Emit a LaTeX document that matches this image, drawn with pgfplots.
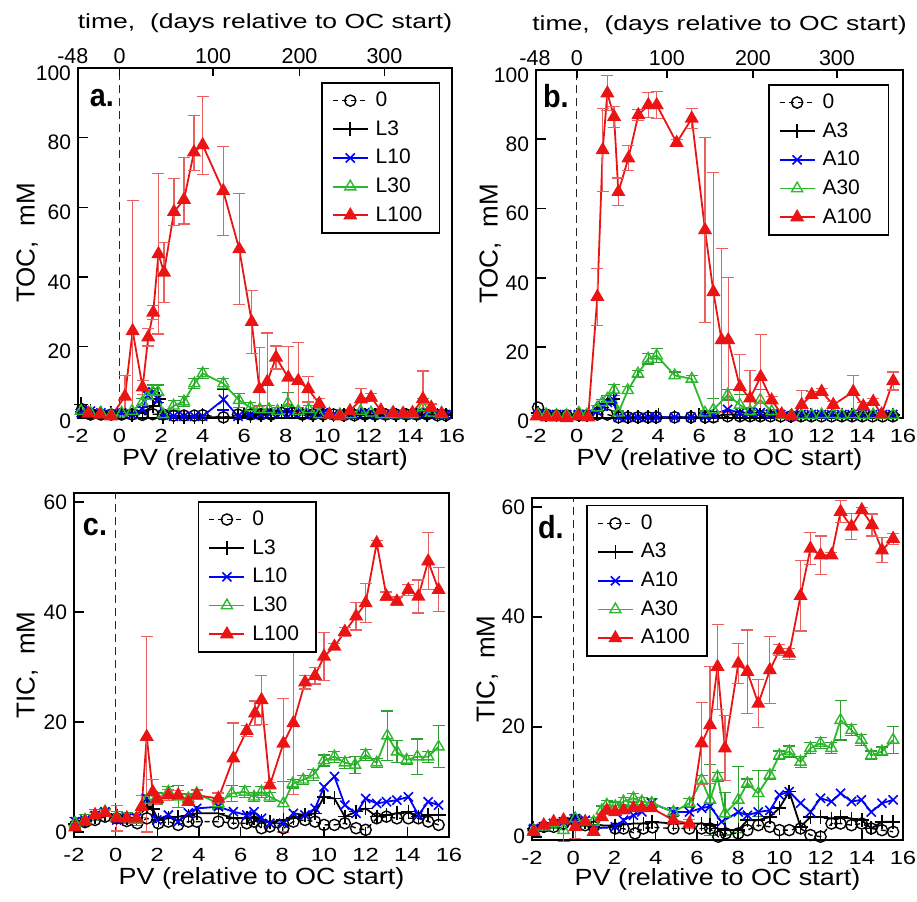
\documentclass[border=0pt]{standalone}
\usepackage{fontspec}
\setmainfont{Liberation Sans}
\usepackage{graphicx}
\usepackage{pgfplots}
\pgfplotsset{compat=1.18}

\definecolor{cred}{RGB}{235,20,20}
\definecolor{cerr}{RGB}{236,95,95}
\definecolor{cgreen}{RGB}{45,185,45}
\definecolor{cgerr}{RGB}{45,160,45}
\definecolor{cblue}{RGB}{0,0,255}

\tikzset{
  toptick/.style={font=\fontsize{10.75}{12}\selectfont, anchor=south, inner sep=0pt, yshift=2pt},
  toptitle/.style={font=\fontsize{10.2}{12}\selectfont, anchor=center, yshift=22.5pt},
}

\pgfplotsset{
  panel/.style={
    scale only axis, anchor=south west, clip=false,
    xmin=-2, xmax=16, xtick={-2,0,...,16},
    xtick pos=lower, ytick pos=lower, tick align=inside,
    axis line style={line width=1pt},
    major tick length=5pt,
    tick style={line width=0.8pt, black},
    /pgf/number format/assume math mode=true,
    yticklabel style={font=\fontsize{10.5}{12}\selectfont},
    xticklabel={\scalebox{1.25}[1]{\pgfmathprintnumber{\tick}}},
    xticklabel style={font=\fontsize{9.5}{11}\selectfont, yshift=-2pt},
    xlabel={\scalebox{1.15}[1]{PV (relative to OC start)}},
    xlabel style={font=\fontsize{11.7}{14}\selectfont, at={(axis description cs:0.5,-0.118)}, anchor=center},
    ylabel style={font=\fontsize{13}{15}\selectfont, anchor=center},
    legend cell align=left,
    legend image code/.code={\draw[mark repeat=2,mark phase=2,##1] plot coordinates {(0pt,0pt)(8.75pt,0pt)(17.5pt,0pt)};},
    legend style={font=\fontsize{10.5}{12}\selectfont, anchor=north west, draw=black, line width=0.8pt,
      row sep=1.5pt, inner xsep=5pt, inner ysep=2.5pt, nodes={inner xsep=3.5pt}},
  },
  s0/.style={black, line width=0.7pt, dash pattern=on 2.5pt off 2pt, mark=o, mark size=2.8pt, mark options={solid, line width=0.7pt}},
  s3/.style={black, line width=0.9pt, mark=+, mark size=3.5pt, mark options={solid, line width=0.8pt}},
  s10/.style={cblue, line width=0.9pt, mark=x, mark size=3.2pt, mark options={solid, line width=0.8pt}},
  s30/.style={cgreen, line width=0.9pt, mark=triangle, mark size=3.2pt, mark options={solid, line width=0.7pt}},
  s100/.style={cred, line width=0.9pt, mark=triangle*, mark size=3.2pt, mark options={solid, fill=cred}},
  eb/.style={error bars/y dir=both, error bars/y explicit,
    error bars/error bar style={#1, line width=0.6pt, solid},
    error bars/error mark options={rotate=90, #1, mark size=3pt, line width=0.6pt, solid}},
}

\begin{document}
\begin{tikzpicture}
\path[use as bounding box] (0pt,0pt) rectangle (458.5pt,-450.5pt);

% ---------------- a. TOC, L series
\begin{axis}[panel, at={(39pt,-209pt)}, width=187pt, height=175pt,
    ymin=-0.5, ymax=100, ytick={0,20,...,100}, yticklabel style={yshift=-2.5pt},
    ylabel={TOC,\ \ mM}, ylabel style={at={(axis description cs:-0.136,0.5)}},
    legend style={at={(0.65,0.96)}}]
\draw[black!85, line width=0.6pt, dash pattern=on 4pt off 2.5pt] (axis cs:0,-0.5) -- (axis cs:0,100);
\node[font=\bfseries\fontsize{16}{18}\selectfont] at (axis description cs:0.064,0.914) {\scalebox{0.9}[1]{a.}};
% top time axis
\draw[line width=0.8pt] (axis cs:0,100) -- ++(0pt,-4pt);
\draw[line width=0.8pt] (axis cs:4.5,100) -- ++(0pt,-4pt);
\draw[line width=0.8pt] (axis cs:8.66,100) -- ++(0pt,-4pt);
\draw[line width=0.8pt] (axis cs:12.75,100) -- ++(0pt,-4pt);
\node[toptick] at (axis cs:-2.25,100) {-48};
\node[toptick] at (axis cs:0,100) {0};
\node[toptick] at (axis cs:4.5,100) {100};
\node[toptick] at (axis cs:8.66,100) {200};
\node[toptick] at (axis cs:12.75,100) {300};
\node[toptitle] at (axis description cs:0.5,1) {\scalebox{1.3}[1]{time,\ \ (days relative to OC start)}};
\addplot[s0] coordinates {(-1.8,2)(-1.4,0.5)(-0.9,0.5)(-0.4,0.5)(0.1,0.5)(0.6,0.5)(1.1,0.4)(1.6,0.6)(2.1,0.5)(2.6,0.2)(3.1,0.2)(3.6,0.2)(4.0,0.3)(5.0,-0.3)(5.7,0.5)(6.3,0.5)(6.8,0.5)(7.3,0.5)(7.8,1)(8.3,1)(8.8,0.5)(9.3,0.5)(9.8,0.5)(10.3,0.5)(10.8,0.3)(11.3,0.3)(11.8,0.5)(12.3,0.5)(12.8,0.5)(13.3,0.5)(13.8,0.5)(14.3,0.5)(14.8,0.5)(15.3,0.3)(15.7,0.3)};
\addlegendentry{0}
\addplot[s3] coordinates {(-1.85,3.4)(-1.4,1.5)(-0.9,1)(-0.4,0.8)(0.1,0.8)(0.6,0.5)(1.1,1)(1.6,3)(1.9,5)(2.1,-0.3)(2.6,-0.3)(3.1,-0.3)(3.6,-0.3)(4.0,-0.3)(5.0,-0.3)(5.7,-0.3)(6.3,0)(6.8,0.5)(7.3,0.5)(7.8,1.5)(8.3,1.5)(8.8,0.5)(9.3,0.5)(9.8,0.3)(10.3,0.3)(10.8,0.3)(11.3,0.3)(11.8,0.3)(12.3,0.3)(12.8,0.3)(13.3,0.3)(13.8,0.3)(14.3,0.3)(14.8,0.5)(15.3,0.3)(15.7,0.3)};
\addlegendentry{L3}
\addplot[s10, eb=cblue] coordinates {(-1.85,1) +- (0,0.3) (-1.4,1.5) +- (0,0.3) (-0.9,1) +- (0,0.3) (-0.4,0.5) +- (0,0.3) (0.1,1) +- (0,0.3) (0.6,0.5) +- (0,0.3) (1.1,2) +- (0,0.5) (1.35,6) +- (0,1) (1.6,7) +- (0,1) (1.85,5) +- (0,1) (2.1,0.3) +- (0,0.3) (2.6,0) +- (0,0.3) (3.1,0) +- (0,0.3) (3.6,0) +- (0,0.3) (4.0,0) +- (0,0.3) (5.0,4.8) +- (0,3) (5.7,0) +- (0,0.3) (6.3,0.5) +- (0,0.3) (6.8,0.5) +- (0,0.3) (7.3,1) +- (0,0.3) (7.8,1) +- (0,0.3) (8.3,1) +- (0,0.3) (8.8,1) +- (0,0.3) (9.3,0.5) +- (0,0.3) (9.8,1) +- (0,0.3) (10.3,0.5) +- (0,0.3) (10.8,0.5) +- (0,0.3) (11.3,0.5) +- (0,0.3) (11.8,1) +- (0,0.3) (12.3,0.5) +- (0,0.3) (12.8,0.5) +- (0,0.3) (13.3,0.5) +- (0,0.3) (13.8,0.5) +- (0,0.3) (14.3,0.5) +- (0,0.3) (14.8,1) +- (0,0.3) (15.3,0.5) +- (0,0.3) (15.7,0.5) +- (0,0.3)};
\addlegendentry{L10}
\addplot[s30, eb=cgerr] coordinates {(-1.85,1.5) +- (0,0.5) (-1.4,1) +- (0,0.5) (-0.9,1) +- (0,0.5) (-0.4,0.5) +- (0,0.5) (0.1,1) +- (0,0.5) (0.6,1.5) +- (0,0.5) (1.1,4) +- (0,1) (1.35,5.8) +- (0,1) (1.6,7) +- (0,2) (1.85,7) +- (0,2) (2.1,0.5) +- (0,0.5) (2.6,3) +- (0,1.5) (3.1,4.2) +- (0,1.5) (3.6,9.4) +- (0,1.5) (4.0,12.3) +- (0,1.5) (5.0,9.4) +- (0,1.5) (5.75,4.6) +- (0,2) (6.3,2.5) +- (0,1.5) (6.75,2) +- (0,1) (7.2,2) +- (0,1) (7.6,1.5) +- (0,1) (8.1,3.8) +- (0,3) (8.6,1.5) +- (0,1) (9.1,2) +- (0,1) (9.6,0.5) +- (0,0.5) (10.1,0.5) +- (0,0.5) (10.6,0.5) +- (0,0.5) (11.1,0.5) +- (0,0.5) (11.6,1.5) +- (0,0.5) (12.1,1) +- (0,0.5) (12.6,0.5) +- (0,0.5) (13.1,0.5) +- (0,0.5) (13.6,0.5) +- (0,0.5) (14.1,0.5) +- (0,0.5) (14.6,2.5) +- (0,2.5) (15.0,1) +- (0,0.5) (15.5,0.5) +- (0,0.5)};
\addlegendentry{L30}
\addplot[s100, eb=cerr] coordinates {(-1.5,0.8) +- (0,0.3) (-0.95,0.5) +- (0,0.3) (-0.4,0) +- (0,0.3) (0.26,5.7) +- (0,6) (0.63,24.5) += (0,37.5) -= (0,25) (1.11,8.3) +- (0,2) (1.38,22.7) +- (0,2.5) (1.62,29.8) +- (0,2) (1.87,46.6) +- (0,23) (2.14,41.3) +- (0,8.6) (2.62,58.7) += (0,9.5) -= (0,4) (3.10,62.2) += (0,12) -= (0,7) (3.58,75.8) += (0,10.6) -= (0,5.3) (4.0,77.9) += (0,14) -= (0,8.4) (4.99,64.7) +- (0,12.7) (5.76,48) +- (0,16) (6.36,27.1) +- (0,9) (6.73,7.8) += (0,12) -= (0,5) (7.11,9.9) += (0,14) -= (0,8.8) (7.53,16.9) +- (0,3.3) (8.12,11.1) += (0,9) -= (0,8) (8.6,10.2) += (0,11) -= (0,9) (9.08,7.8) +- (0,3.7) (9.61,3.6) +- (0,1.5) (10.1,0.5) +- (0,0.5) (10.6,0) +- (0,0.5) (11.09,1.5) +- (0,0.5) (11.62,4.9) +- (0,3) (12.1,5.4) +- (0,1.2) (12.58,1.7) +- (0,0.5) (13.17,1) +- (0,0.5) (13.65,0.8) +- (0,0.5) (14.1,1) +- (0,0.5) (14.6,5) += (0,8) -= (0,4) (15.0,2.5) +- (0,1) (15.5,0.8) +- (0,0.5)};
\addlegendentry{L100}
\end{axis}

% ---------------- b. TOC, A series
\begin{axis}[panel, at={(268pt,-209pt)}, width=183.5pt, height=174pt,
    ymin=-0.5, ymax=100, ytick={0,20,...,100}, yticklabel style={yshift=-2.5pt},
    ylabel={TOC,\ \ mM}, ylabel style={at={(axis description cs:-0.125,0.5)}},
    legend style={at={(0.632,0.96)}}]
\draw[black!85, line width=0.6pt, dash pattern=on 4pt off 2.5pt] (axis cs:0,-0.5) -- (axis cs:0,100);
\node[font=\bfseries\fontsize{16}{18}\selectfont] at (axis description cs:0.054,0.925) {\scalebox{0.9}[1]{b.}};
% top time axis
\draw[line width=0.8pt] (axis cs:0,100) -- ++(0pt,-4pt);
\draw[line width=0.8pt] (axis cs:4.42,100) -- ++(0pt,-4pt);
\draw[line width=0.8pt] (axis cs:8.64,100) -- ++(0pt,-4pt);
\draw[line width=0.8pt] (axis cs:12.76,100) -- ++(0pt,-4pt);
\node[toptick] at (axis cs:-2.05,100) {-48};
\node[toptick] at (axis cs:0,100) {0};
\node[toptick] at (axis cs:4.42,100) {100};
\node[toptick] at (axis cs:8.64,100) {200};
\node[toptick] at (axis cs:12.76,100) {300};
\node[toptitle] at (axis description cs:0.5,1) {\scalebox{1.3}[1]{time,\ \ (days relative to OC start)}};
\addplot[s0] coordinates {(-1.9,2.5)(-1.5,0.5)(-1,0.3)(-0.5,0.3)(0.1,0.3)(0.5,0.3)(1.0,0.5)(1.5,0.5)(2.04,-0.3)(2.5,-0.3)(3.0,-0.3)(3.5,-0.3)(3.9,-0.3)(4.8,-0.3)(5.6,-0.3)(6.3,-0.3)(6.7,-0.3)(7.4,0)(8.0,0)(8.5,0)(9.0,0)(9.5,0)(10.0,0)(10.5,0)(11.0,0)(11.5,0)(12.0,0)(12.5,0)(13.0,0)(13.5,0)(14.0,0)(14.5,0)(15.0,0)(15.5,0)};
\addlegendentry{0}
\addplot[s3] coordinates {(-1.9,1)(-1.5,0.5)(-1,0.5)(-0.5,0.3)(0.1,0.5)(0.5,0.5)(1.0,1.5)(1.25,2.5)(1.5,3.5)(1.8,5)(2.04,-0.3)(2.5,-0.3)(3.0,-0.3)(3.5,-0.3)(3.9,-0.3)(4.8,-0.3)(5.6,-0.3)(6.3,-0.3)(6.7,0)(7.4,0.5)(8.0,0.5)(8.5,0.5)(9.0,0.5)(9.5,0.3)(10.0,0)(10.5,0)(11.0,0.3)(11.5,0.3)(12.0,0.3)(12.5,0.3)(13.0,0.3)(13.5,0.3)(14.0,0.3)(14.5,0.3)(15.0,0.3)(15.5,0.3)};
\addlegendentry{A3}
\addplot[s10] coordinates {(-1.9,0.5)(-1.5,0.5)(-1,0.5)(-0.5,0.5)(0.1,0.5)(0.5,0.5)(1.0,1.5)(1.25,3)(1.5,4)(1.75,5)(2.04,-0.3)(2.5,-0.3)(3.0,-0.3)(3.5,-0.3)(3.9,-0.3)(4.8,-0.3)(5.6,-0.3)(6.3,0)(6.7,0.5)(7.4,2)(8.0,1)(8.5,1)(9.0,1)(9.5,0.5)(10.0,0.5)(10.5,0)(11.0,0.5)(11.5,0.5)(12.0,0.5)(12.5,0.5)(13.0,0.5)(13.5,0.5)(14.0,0.5)(14.5,0.5)(15.0,0.5)(15.5,0.5)};
\addlegendentry{A10}
\addplot[s30, eb=cgerr] coordinates {(-1.9,0.5) +- (0,0.5) (-1.5,0.5) +- (0,0.5) (-1,0.3) +- (0,0.5) (-0.5,0.3) +- (0,0.5) (0.1,1) +- (0,0.5) (0.5,0.5) +- (0,0.5) (1.0,2.5) +- (0,0.5) (1.25,4) +- (0,0.8) (1.5,5) +- (0,1) (1.83,7.6) +- (0,1.5) (2.04,1) +- (0,0.5) (2.5,7.5) +- (0,1) (3.0,12.3) +- (0,1) (3.5,16.6) +- (0,1.5) (3.92,17.5) +- (0,2) (4.8,11.8) +- (0,1) (5.64,10.8) +- (0,1) (6.29,1) +- (0,0.5) (6.7,1.9) +- (0,3.3) (7.4,6.2) +- (0,1.5) (8.0,3.3) +- (0,3) (8.5,1.4) +- (0,1) (9.0,4.7) +- (0,3) (9.56,1.4) +- (0,0.5) (10.05,0.3) +- (0,0.5) (10.54,0.3) +- (0,0.5) (11.03,0.3) +- (0,0.5) (11.52,0.3) +- (0,0.5) (12.01,0.5) +- (0,0.5) (12.58,0.5) +- (0,0.5) (13.0,0.3) +- (0,0.5) (13.56,0.5) +- (0,0.5) (14.05,0.3) +- (0,0.5) (14.54,0.5) +- (0,0.5) (14.95,0.3) +- (0,0.5) (15.52,0.3) +- (0,0.5)};
\addlegendentry{A30}
\addplot[s100, eb=cerr] coordinates {(-1.97,0) +- (0,0.3) (-1.48,-0.3) +- (0,0.3) (-0.99,-0.3) +- (0,0.3) (-0.49,-0.5) +- (0,0.3) (0.07,0) +- (0,0.3) (0.56,-0.3) +- (0,0.3) (1.01,34.5) +- (0,8.2) (1.27,76.9) +- (0,12) (1.5,93.3) +- (0,5) (1.83,86.5) +- (0,3) (2.04,64.8) +- (0,4) (2.53,74.5) +- (0,3.6) (3.02,87) +- (0,1.5) (3.51,89.9) +- (0,3.6) (3.92,89.9) +- (0,4) (4.9,79) +- (0,1) (5.64,86) +- (0,3) (6.29,53.8) +- (0,26.7) (6.7,35.9) +- (0,34.6) (7.1,22) += (0,26.5) -= (0,21) (7.43,22) += (0,18) -= (0,21) (8.0,8.5) += (0,9.4) -= (0,7.6) (8.5,5.2) += (0,8) -= (0,4.3) (9.02,11.4) += (0,12.3) -= (0,10.5) (9.56,4.6) +- (0,1) (10.05,0.6) +- (0,0.5) (10.54,0) +- (0,0.5) (11.03,3.3) += (0,4.2) -= (0,2.6) (11.52,6.2) +- (0,1) (12.01,7.1) +- (0,1) (12.58,3.3) +- (0,1) (13.56,7.1) += (0,4.7) -= (0,6.2) (14.05,2.9) +- (0,1) (14.54,4.2) +- (0,1) (14.95,0.6) +- (0,0.5) (15.52,10.2) +- (0,2.6)};
\addlegendentry{A100}
\end{axis}

% ---------------- c. TIC, L series
\begin{axis}[panel, at={(37pt,-418.5pt)}, width=187.5pt, height=172pt,
    ymin=-0.9, ymax=61.6, ytick={0,20,40,60},
    ylabel={TIC,\ \ mM}, ylabel style={at={(axis description cs:-0.125,0.5)}},
    xlabel style={at={(axis description cs:0.5,-0.12)}},
    legend style={at={(0.33,0.977)}}]
\draw[black!85, line width=0.6pt, dash pattern=on 4pt off 2.5pt] (axis cs:0,-0.9) -- (axis cs:0,61.6);
\node[font=\bfseries\fontsize{16}{18}\selectfont] at (axis description cs:0.056,0.90) {\scalebox{0.9}[1]{c.}};
\addplot[s0] coordinates {(-1.95,1.2)(-1.47,1.8)(-0.99,2.2)(-0.51,2.8)(0.05,2.5)(0.53,2)(1.04,1.6)(1.5,2.5)(2.05,1.6)(2.53,1.9)(3.0,1.3)(3.49,1.9)(3.89,1.9)(4.93,1.9)(5.65,1.6)(6.29,1.6)(6.64,1.9)(7.0,0.7)(7.4,1)(8.05,0.7)(8.53,1.9)(9.09,2.2)(9.57,1.9)(10.0,1.3)(10.5,1.3)(11.0,1.6)(11.54,0.7)(12.0,0.4)(12.53,2.5)(13.0,2.8)(13.5,2.5)(14.05,2.5)(14.53,2.5)(15.0,1.9)(15.5,1.3)};
\addlegendentry{0}
\addplot[s3] coordinates {(-1.95,1.5)(-1.47,2)(-0.99,2.8)(-0.51,3.3)(0.05,3)(0.53,2.5)(1.0,2.5)(1.5,4.6)(1.78,4.2)(2.05,2.2)(2.53,2.5)(3.0,2.8)(3.49,3)(3.89,3.4)(4.93,3.4)(5.65,2.5)(6.29,2.5)(6.64,2.5)(7.0,2)(7.4,1.8)(8.05,2.2)(8.53,2.5)(9.09,3.1)(9.57,3.4)(10.0,6.4)(10.5,6.1)(11.0,2.8)(11.54,3.7)(12.0,4.3)(12.53,2.8)(13.0,3.1)(13.5,3.4)(14.05,3.7)(14.53,2.8)(15.0,3.1)(15.5,3.1)};
\addlegendentry{L3}
\addplot[s10] coordinates {(-1.95,1.9)(-1.47,2.2)(-0.99,3)(-0.51,3.7)(0.05,2.2)(0.53,2.5)(1.0,2.5)(1.49,6.1)(1.97,2.2)(2.53,3.1)(3.0,1.9)(3.49,3.5)(3.89,4.3)(4.93,4.6)(5.65,3.7)(6.29,3.1)(6.64,3.7)(7.0,2.5)(7.4,1.6)(8.05,1.6)(8.53,3.4)(9.09,3.1)(9.57,4.3)(10.0,8.2)(10.5,10.1)(11.0,4.9)(11.54,3.4)(12.0,6.1)(12.53,5.2)(13.0,5.5)(13.5,5.8)(14.05,6.4)(14.53,3.1)(15.0,5.5)(15.5,4.9)};
\addlegendentry{L10}
\addplot[s30, eb=cgerr] coordinates {(-1.95,1.6) +- (0,1) (-1.47,2.2) +- (0,1) (-0.99,3.1) +- (0,1) (-0.51,3.7) +- (0,0.5) (0.05,2.8) +- (0,1) (0.53,2.5) +- (0,1) (1.0,2.2) +- (0,1) (1.49,5.8) +- (0,1) (1.97,6.1) +- (0,1) (2.53,7.3) +- (0,1) (3.0,6.4) +- (0,2) (3.49,6.1) +- (0,0.8) (3.89,7) +- (0,0.8) (4.93,5.2) +- (0,1) (5.57,7) +- (0,1.5) (6.2,7.3) +- (0,1) (6.64,6.4) +- (0,0.8) (7.0,7.3) +- (0,1) (7.4,6.4) +- (0,0.8) (8.05,5.2) +- (0,4) (8.5,8.8) +- (0,0.8) (9.0,9.5) +- (0,0.8) (9.49,10.4) +- (0,1) (10.0,13) +- (0,1) (10.5,13.7) +- (0,1) (11.0,12.6) +- (0,1) (11.49,12.2) +- (0,1.5) (12.0,14) +- (0,1) (12.53,12.6) +- (0,0.8) (13.04,17.5) +- (0,4.5) (13.5,14.6) +- (0,2) (13.97,13.1) +- (0,0.8) (14.48,13.7) +- (0,3.2) (15.0,13.7) +- (0,1) (15.5,15.5) +- (0,3.8)};
\addlegendentry{L30}
\addplot[s100, eb=cerr] coordinates {(-1.95,0.85) +- (0,0.5) (-1.47,1.9) +- (0,0.5) (-0.99,3.1) +- (0,0.5) (-0.51,3.5) +- (0,0.5) (0.05,2.5) +- (0,2.3) (0.53,2.5) +- (0,0.8) (1.0,2.5) +- (0,0.8) (1.25,4.6) +- (0,2) (1.49,17.3) += (0,18.2) -= (0,17.3) (1.78,7.3) +- (0,2.2) (2.0,6) +- (0,0.5) (2.53,6.7) +- (0,1) (3.0,6.7) +- (0,0.8) (3.49,5.5) +- (0,0.5) (3.89,6.7) +- (0,0.8) (4.93,6.1) +- (0,1) (5.65,13.4) +- (0,6.4) (6.29,18.4) +- (0,1) (6.69,21.6) +- (0,2.2) (7.0,24) +- (0,4.5) (7.4,8.5) +- (0,0.5) (8.05,16.1) += (0,8.2) -= (0,16.1) (8.53,19.8) +- (0,13) (9.09,27.2) +- (0,1.2) (9.57,28.4) +- (0,1.5) (10.0,31.9) +- (0,4.3) (10.5,33.7) +- (0,0.6) (11.0,36.4) +- (0,0.8) (11.54,39.2) +- (0,2.5) (12.0,41.6) +- (0,3.5) (12.53,52.5) +- (0,0.4) (13.0,42.8) +- (0,0.8) (13.5,41.9) +- (0,0.8) (14.05,44) +- (0,1) (14.53,42.8) +- (0,3) (15.0,49.2) +- (0,5.2) (15.5,44) +- (0,4)};
\addlegendentry{L100}
\end{axis}

% ---------------- d. TIC, A series
\begin{axis}[panel, at={(266pt,-420pt)}, width=185.5pt, height=171pt,
    ymin=-0.6, ymax=61.6, ytick={0,20,40,60},
    ylabel={TIC,\ \ mM}, ylabel style={at={(axis description cs:-0.121,0.5)}},
    xlabel style={at={(axis description cs:0.5,-0.115)}},
    legend style={at={(0.146,0.98)}}]
\draw[black!85, line width=0.6pt, dash pattern=on 4pt off 2.5pt] (axis cs:0,-0.6) -- (axis cs:0,61.6);
\node[font=\bfseries\fontsize{16}{18}\selectfont] at (axis description cs:0.051,0.915) {\scalebox{0.9}[1]{d.}};
\addplot[s0] coordinates {(-1.92,1.2)(-1.43,1.8)(-0.95,1.8)(-0.47,2.4)(0.1,3)(0.58,2.1)(0.99,1.8)(2.04,1.5)(2.44,1.5)(3.0,0.6)(3.4,1.5)(3.85,1.7)(4.86,1.5)(5.64,1.5)(6.23,1.5)(6.64,1.5)(7.04,0)(7.4,0.6)(8.01,0.6)(8.45,1.2)(8.98,2.1)(9.54,1.8)(10.0,1.2)(10.48,1.2)(11.03,1.5)(11.51,0.3)(12.0,0)(12.53,2.4)(12.97,2.4)(13.5,2.1)(14.0,2.4)(14.46,1.5)(14.98,1.2)(15.52,0.9)};
\addlegendentry{0}
\addplot[s3] coordinates {(-1.92,1.5)(-1.43,2)(-0.95,2.4)(-0.47,2.8)(0.1,3.3)(0.58,2.7)(0.99,2.1)(2.04,2)(2.44,2.2)(2.92,2.4)(3.4,2.4)(3.81,2.7)(4.86,2.4)(5.64,2.4)(6.23,2.4)(6.64,2.1)(7.0,1.5)(7.36,1.2)(8.01,1.2)(8.45,3)(8.98,3)(9.54,3.6)(10.0,5.2)(10.48,8.2)(11.03,1.8)(11.51,3.6)(12.0,3.6)(12.53,3.3)(12.97,3.6)(13.5,3.3)(14.0,3)(14.46,1.5)(14.98,2.7)(15.52,2.7)};
\addlegendentry{A3}
\addplot[s10] coordinates {(-1.92,1.5)(-1.43,1.8)(-0.95,2.4)(-0.47,2.7)(0.1,3.3)(0.58,3)(0.99,1.5)(2.04,1.8)(2.44,3)(2.92,3.9)(3.33,4.5)(3.81,6.1)(4.86,4.5)(5.64,4.5)(6.23,5.2)(6.64,5.5)(7.2,2.7)(8.01,4.5)(8.45,3.9)(8.98,4.5)(9.54,4.8)(10.0,7.6)(10.48,8.2)(11.03,6.1)(11.51,4.5)(12.0,7)(12.53,6.4)(12.97,7.9)(13.5,6.4)(13.98,6.7)(14.46,4.5)(14.98,6.1)(15.52,6.7)};
\addlegendentry{A10}
\addplot[s30, eb=cgerr] coordinates {(-1.92,1.2) +- (0,0.8) (-1.43,1.8) +- (0,0.8) (-0.95,2.4) +- (0,0.8) (-0.47,1.2) +- (0,2) (0.1,3.3) +- (0,0.8) (0.58,2.7) +- (0,0.8) (0.99,2.7) +- (0,0.8) (1.39,4.8) +- (0,0.8) (1.63,5.8) +- (0,0.8) (2.04,5.5) +- (0,0.8) (2.44,6.4) +- (0,0.8) (2.92,7) +- (0,0.8) (3.33,6.4) +- (0,0.8) (3.81,6.1) +- (0,0.8) (4.86,4.5) +- (0,0.8) (5.64,6.1) +- (0,0.8) (6.23,10.3) +- (0,0.8) (6.64,6.7) +- (0,6.5) (7.0,10.9) +- (0,0.8) (7.36,4.2) +- (0,3.9) (8.01,6.7) +- (0,6) (8.45,9.7) +- (0,0.8) (8.98,7.9) +- (0,4.2) (9.54,11.2) +- (0,0.8) (10.0,14.8) +- (0,0.8) (10.48,15.5) +- (0,1) (11.03,13.6) +- (0,1) (11.51,16.1) +- (0,1) (12.0,17) +- (0,1) (12.53,16.1) +- (0,1) (12.97,21.2) +- (0,3.6) (13.5,19.4) +- (0,1) (13.98,17.6) +- (0,1) (14.46,14.8) +- (0,0.8) (14.98,15.5) +- (0,0.8) (15.52,17.6) +- (0,2.4)};
\addlegendentry{A30}
\addplot[s100, eb=cerr] coordinates {(-1.92,0.9) +- (0,0.5) (-1.43,2.1) +- (0,0.5) (-0.95,2.7) +- (0,0.5) (-0.47,3) +- (0,0.5) (0.1,1.8) +- (0,2.1) (0.58,2.7) +- (0,0.5) (0.99,0.9) +- (0,0.5) (1.39,3.6) +- (0,0.5) (1.63,4.8) +- (0,0.8) (2.04,4.5) +- (0,0.5) (2.44,4.8) +- (0,0.5) (2.92,5.2) +- (0,0.5) (3.33,5.2) +- (0,0.5) (3.81,5.2) +- (0,0.5) (4.86,3) +- (0,0.8) (5.64,2.4) +- (0,0.8) (6.23,17) +- (0,7.4) (6.64,20.3) +- (0,10.6) (7.0,30.9) +- (0,7.7) (7.36,16.1) +- (0,5.9) (8.01,31.5) +- (0,3.6) (8.45,30) +- (0,7.6) (8.98,24.2) +- (0,4.4) (9.54,30.3) +- (0,6.1) (10.0,33.9) +- (0,1) (10.48,33.3) +- (0,1) (11.03,43.8) +- (0,6.4) (11.51,52.4) +- (0,2.9) (12.0,51.2) +- (0,3.5) (12.53,51.2) +- (0,0.5) (12.97,59.1) +- (0,2) (13.5,56.4) +- (0,2.4) (14.0,59.4) +- (0,0.5) (14.5,56.7) +- (0,2) (14.98,52.1) +- (0,2.3) (15.52,54.2) +- (0,1)};
\addlegendentry{A100}
\end{axis}
\end{tikzpicture}
\end{document}
